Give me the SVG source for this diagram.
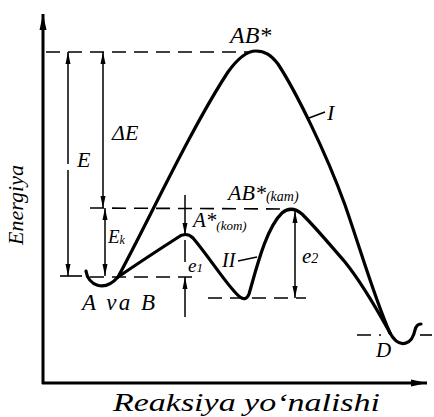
<svg xmlns="http://www.w3.org/2000/svg" width="434" height="417" viewBox="0 0 434 417">
<defs>
<marker id="ah" viewBox="0 0 12 6" refX="12" refY="3" markerWidth="12" markerHeight="6" markerUnits="userSpaceOnUse" orient="auto-start-reverse">
<path d="M0,0.5 L12,3 L0,5.5 Z" fill="#000"/>
</marker>
<marker id="ahb" viewBox="0 0 16 8" refX="16" refY="4" markerWidth="16" markerHeight="8" markerUnits="userSpaceOnUse" orient="auto">
<path d="M0,0.5 L16,4 L0,7.5 Z" fill="#000"/>
</marker>
</defs>
<rect width="434" height="417" fill="#fff"/>
<g id="axes" stroke="#000" stroke-width="3" fill="none">
<line x1="43" y1="384" x2="43" y2="14" marker-end="url(#ahb)"/>
<line x1="42" y1="383" x2="427" y2="383" marker-end="url(#ahb)"/>
</g>
<g id="levels" stroke="#000" stroke-width="1.6" fill="none" stroke-dasharray="14 8">
<line x1="46" y1="52" x2="248" y2="52"/>
<line x1="90" y1="208" x2="290" y2="209"/>
<line x1="60" y1="276" x2="82" y2="276" stroke-dasharray="none"/>
<line x1="90" y1="277" x2="196" y2="277"/>
<line x1="208" y1="298" x2="306" y2="298"/>
<line x1="357" y1="335" x2="381" y2="335"/>
<line x1="420" y1="335" x2="432" y2="335" stroke-dasharray="none"/>
</g>
<g id="connectors" stroke="#000" stroke-width="1.5" fill="none">
<line x1="68" y1="164" x2="68" y2="52" marker-end="url(#ah)"/>
<line x1="68" y1="170" x2="68" y2="276" marker-end="url(#ah)"/>
<line x1="103" y1="130" x2="103" y2="52" marker-end="url(#ah)"/>
<line x1="103" y1="130" x2="103" y2="208" marker-end="url(#ah)"/>
<line x1="105" y1="240" x2="105" y2="208" marker-end="url(#ah)"/>
<line x1="105" y1="240" x2="105" y2="276" marker-end="url(#ah)"/>
<line x1="185" y1="195" x2="185" y2="235" marker-end="url(#ah)"/>
<line x1="185" y1="240" x2="185" y2="262"/>
<line x1="185" y1="317" x2="185" y2="277" marker-end="url(#ah)"/>
<line x1="295" y1="255" x2="295" y2="211" marker-end="url(#ah)"/>
<line x1="295" y1="255" x2="295" y2="298" marker-end="url(#ah)"/>
<line x1="309" y1="118" x2="325" y2="112"/>
<line x1="238" y1="261" x2="257" y2="257"/>
</g>
<g id="curves" stroke="#000" stroke-width="3.2" fill="none" stroke-linecap="round" stroke-linejoin="round">
<path id="curve-start" d="M86,271 C88,285 104,293 118,277"/>
<path id="curve-I" d="M118,277 C145,228 190,130 228,72 C238,58 247,51 256,51 C265,51 271,55 278,64 C295,90 325,150 345,205 C360,248 375,300 390,333"/>
<path id="curve-II" d="M118,277 C140,262 163,247 177,238 C182,234 188,233 193,238 C210,258 230,290 240,297 C244,300 247,299 249,294 C256,270 266,228 282,213 C288,208 295,208 302,214 C318,230 330,245 345,262 C365,287 380,315 390,333"/>
<path id="curve-D" d="M390,333 C395,342 400,345 406,343 C412,341 414,335 415,330 C416,326 418,324 421,324"/>
</g>
<text font-family="serif" font-style="italic" transform="translate(23,205) rotate(-90)" text-anchor="middle" font-size="22">Energiya</text>
<text font-family="Liberation Serif" font-style="italic" x="113" y="411" font-size="25" textLength="267" lengthAdjust="spacingAndGlyphs">Reaksiya yoʻnalishi</text>
<text font-family="serif" font-style="italic" x="327" y="120" font-size="22">I</text>
<text font-family="serif" font-style="italic" x="230" y="43" font-size="24">AB*</text>
<text font-family="serif" font-style="italic" x="222" y="267" font-size="20">II</text>
<text font-family="serif" font-style="italic" x="193" y="227" font-size="21">A*<tspan font-size="13" dy="3">(kom)</tspan></text>
<text font-family="serif" font-style="italic" x="228" y="200" font-size="22">AB*<tspan font-size="14" dy="1">(kam)</tspan></text>
<text font-family="serif" font-style="italic" x="376" y="357" font-size="21">D</text>
<text font-family="serif" font-style="italic" x="77" y="167" font-size="22">E</text>
<text font-family="serif" font-style="italic" x="112" y="140" font-size="22">ΔE</text>
<text font-family="serif" font-style="italic" x="108" y="243" font-size="19">E<tspan font-size="12" dy="1">k</tspan></text>
<text font-family="serif" font-style="italic" x="188" y="272" font-size="19">e<tspan font-size="13">1</tspan></text>
<text font-family="serif" font-style="italic" x="302" y="263" font-size="21">e<tspan font-size="14">2</tspan></text>
<text font-family="serif" font-style="italic" x="82" y="310" font-size="23" textLength="73" lengthAdjust="spacing">A va B</text>
</svg>
